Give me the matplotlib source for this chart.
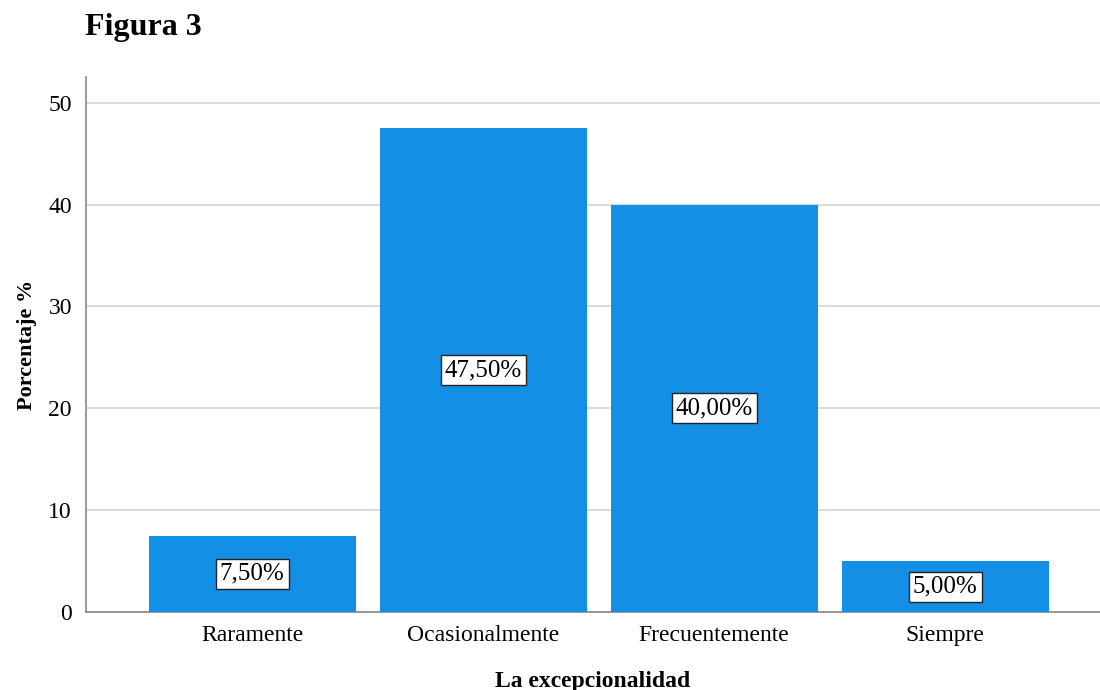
import matplotlib
matplotlib.use("Agg")
import matplotlib.pyplot as plt

# Data
categories = ["Raramente", "Ocasionalmente", "Frecuentemente", "Siempre"]
percentages = [7.5, 47.5, 40.0, 5.0]
labels = ["7,50%", "47,50%", "40,00%", "5,00%"]
yticks = [0, 10, 20, 30, 40, 50]

plt.rcParams["font.family"] = ["Liberation Serif", "DejaVu Serif"]

fig = plt.figure(figsize=(11, 6.9), dpi=100)
ax = fig.add_axes([0.078, 0.113, 0.922, 0.775])

x = range(len(categories))
ax.bar(x, percentages, width=0.896, color="#1390E6", zorder=3)

# value labels in boxes, at mid-height of each bar
for xi, val, lab in zip(x, percentages, labels):
    ax.text(xi, val / 2, lab, ha="center", va="center", fontsize=18, zorder=4,
            bbox=dict(boxstyle="square,pad=0.16", facecolor="white",
                      edgecolor="#222222", linewidth=1))

ax.set_xlim(-0.72, 3.67)
ax.set_ylim(0, 52.5)
ax.set_yticks(yticks)
ax.set_xticks(list(x))
ax.set_xticklabels(categories, fontsize=17)
ax.tick_params(axis="y", labelsize=17, length=0, pad=10)
ax.tick_params(axis="x", length=0, pad=9)

ax.yaxis.grid(True, color="#d4d4d4", linewidth=1.2, zorder=0)
for side in ["top", "right"]:
    ax.spines[side].set_visible(False)
for side in ["left", "bottom"]:
    ax.spines[side].set_color("#888888")
    ax.spines[side].set_linewidth(1.2)

ax.set_ylabel("Porcentaje %", fontsize=16, fontweight="bold", labelpad=8)
ax.set_xlabel("La excepcionalidad", fontsize=17, fontweight="bold", labelpad=18)

fig.text(0.077, 0.96, "Figura 3", fontsize=23, fontweight="bold", va="center", ha="left")

fig.savefig("out.png", dpi=100)
